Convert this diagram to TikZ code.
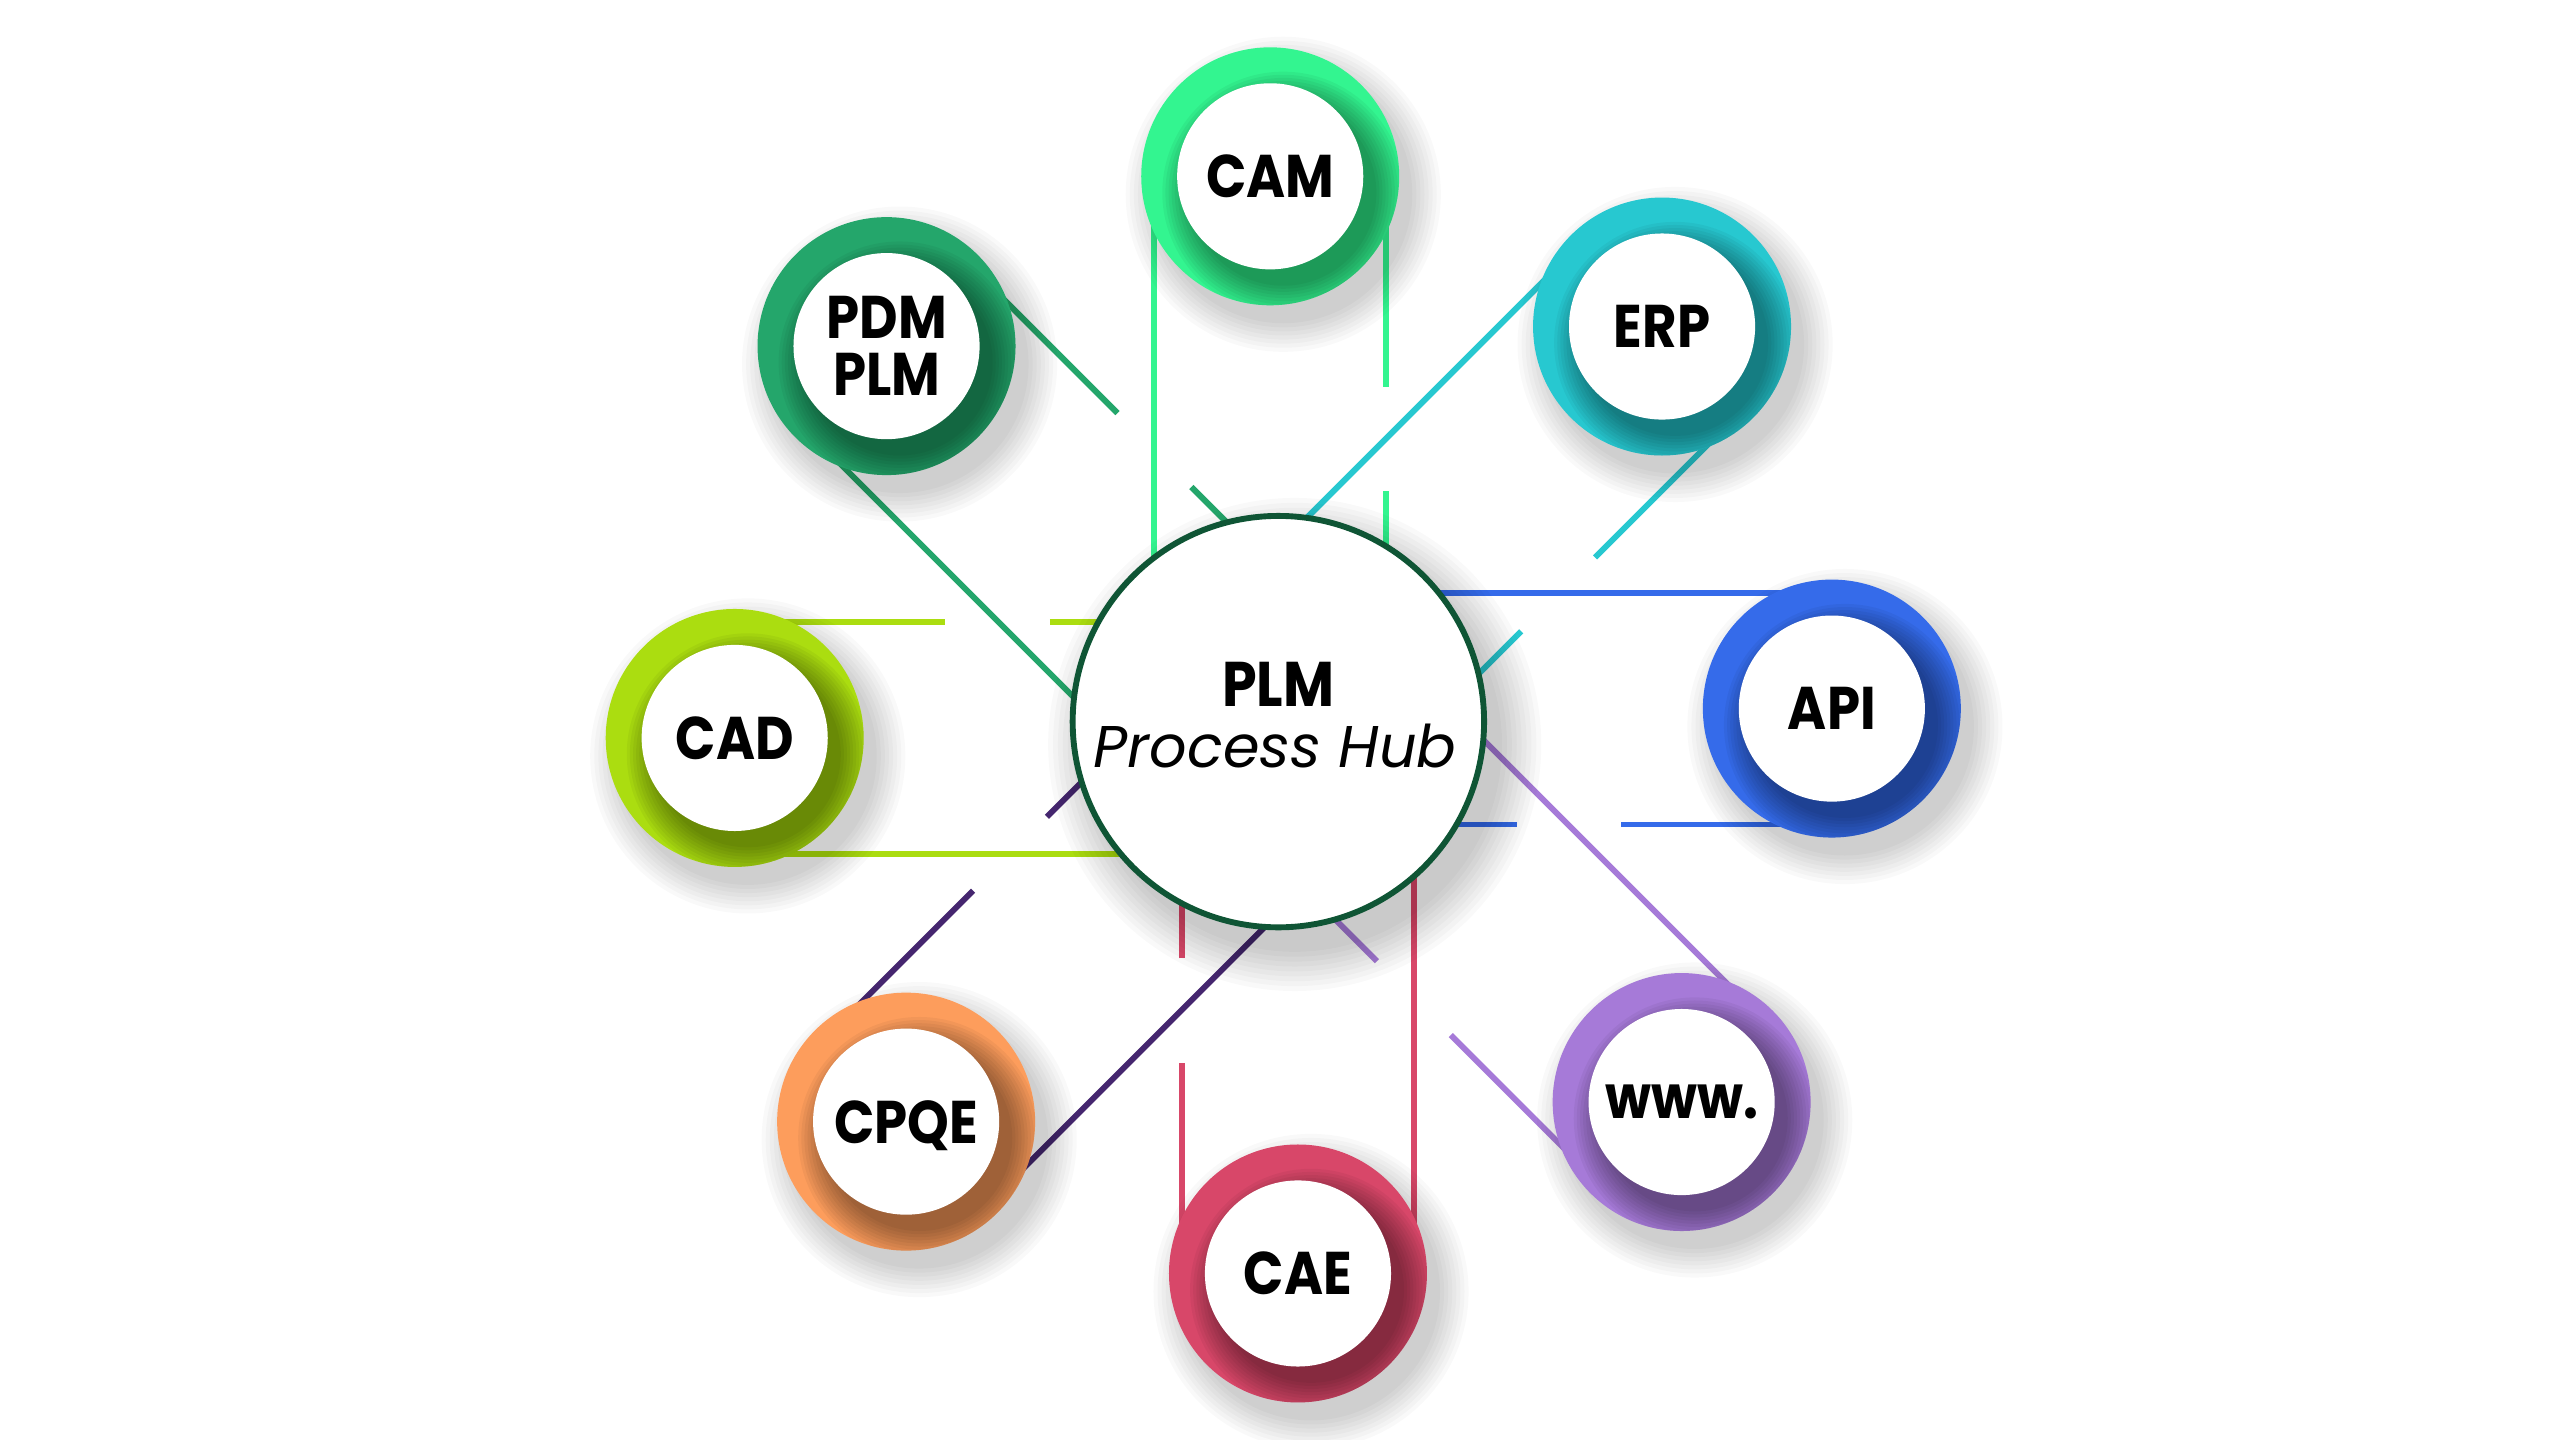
\documentclass[tikz,border=0pt]{standalone}
\usepackage{fontspec}
\newfontfamily\pop[FakeStretch=0.88]{Poppins}
\newfontfamily\popit{Poppins}
\usetikzlibrary{calc}
\definecolor{cCAM}{HTML}{33F590}
\definecolor{cPDM}{HTML}{24A66B}
\definecolor{cERP}{HTML}{27C8D0}
\definecolor{cAPI}{HTML}{356BEA}
\definecolor{cCAD}{HTML}{ABDD10}
\definecolor{cCPQE}{HTML}{FD9D5C}
\definecolor{cCAE}{HTML}{D84769}
\definecolor{cWWW}{HTML}{A67AD8}
\definecolor{lCPQE}{HTML}{45266F}
\definecolor{hubc}{HTML}{0F5535}
\tikzset{
  link/.style={line width=0.72mm, line cap=butt},
  sattext/.style={font=\pop\bfseries\fontsize{21}{20}\selectfont, text depth=0pt, inner sep=0pt, align=center},
  hubtitle/.style={font=\pop\bfseries\fontsize{22}{26}\selectfont, anchor=base, inner sep=0pt},
  hubsub/.style={font=\popit\itshape\fontsize{20.5}{24}\selectfont, anchor=base, inner sep=0pt},
}
% #1 satellite, #2 direction towards hub, #3 colour
\newcommand\satlinks[3]{%
  \draw[link,#3] ($(#1)+(#2+90:71)$) -- ++(#2:340);
  \draw[link,#3] ($(#1)+(#2-90:71)$) -- ++(#2:129);
  \draw[link,#3] ($(#1)+(#2-90:71)+(#2:193)$) -- ++(#2:147);
}
% #1 satellite, #2 colour, #3 text
\newcommand\satdisc[3]{%
  \foreach \k in {0,...,7}
    \fill[black,opacity=0.025] ($(#1)+(8,11)$) circle[radius=79+2.5*\k];
  \fill[#2] (#1) circle[radius=79];
  \begin{scope}
    \clip (#1) circle[radius=79];
    \foreach \k in {0,...,9}
      \fill[black,opacity=0.045] ($(#1)+(8,10)$) circle[radius=57+1.9*\k];
  \end{scope}
  \fill[white] (#1) circle[radius=57];
  \node[sattext] (#1-label) at (#1) {#3};
}
\begin{document}
\begin{tikzpicture}[x=0.2mm,y=-0.2mm]
\useasboundingbox[fill=white] (0,0) rectangle (1568,882);
\coordinate (hub) at (783,442);
\coordinate (cam) at (778,108);
\coordinate (pdm) at (543,212);
\coordinate (erp) at (1018,200);
\coordinate (api) at (1122,434);
\coordinate (www) at (1030,675);
\coordinate (cae) at (795,780);
\coordinate (cpqe) at (555,687);
\coordinate (cad) at (450,452);
% connectors
\satlinks{cam}{90}{cCAM}
\satlinks{pdm}{45}{cPDM}
\satlinks{erp}{135}{cERP}
\satlinks{api}{180}{cAPI}
\satlinks{www}{225}{cWWW}
\satlinks{cae}{270}{cCAE}
\satlinks{cpqe}{315}{lCPQE}
\satlinks{cad}{0}{cCAD}
% hub
\foreach \k in {0,...,8}
  \fill[black,opacity=0.022] ($(hub)+(10,14)$) circle[radius=127+3*\k];
\draw[hubc,line width=0.72mm,fill=white] (hub) circle[radius=126];
\node[hubtitle] (hub-title) at (783,433) {PLM};
\node[hubsub] (hub-sub) at (781,470) {Process Hub};
% satellites
\satdisc{cam}{cCAM}{CAM}
\satdisc{pdm}{cPDM}{PDM\\PLM}
\satdisc{erp}{cERP}{ERP}
\satdisc{api}{cAPI}{API}
\satdisc{www}{cWWW}{www.}
\satdisc{cae}{cCAE}{CAE}
\satdisc{cpqe}{cCPQE}{CPQE}
\satdisc{cad}{cCAD}{CAD}
\end{tikzpicture}
\end{document}
